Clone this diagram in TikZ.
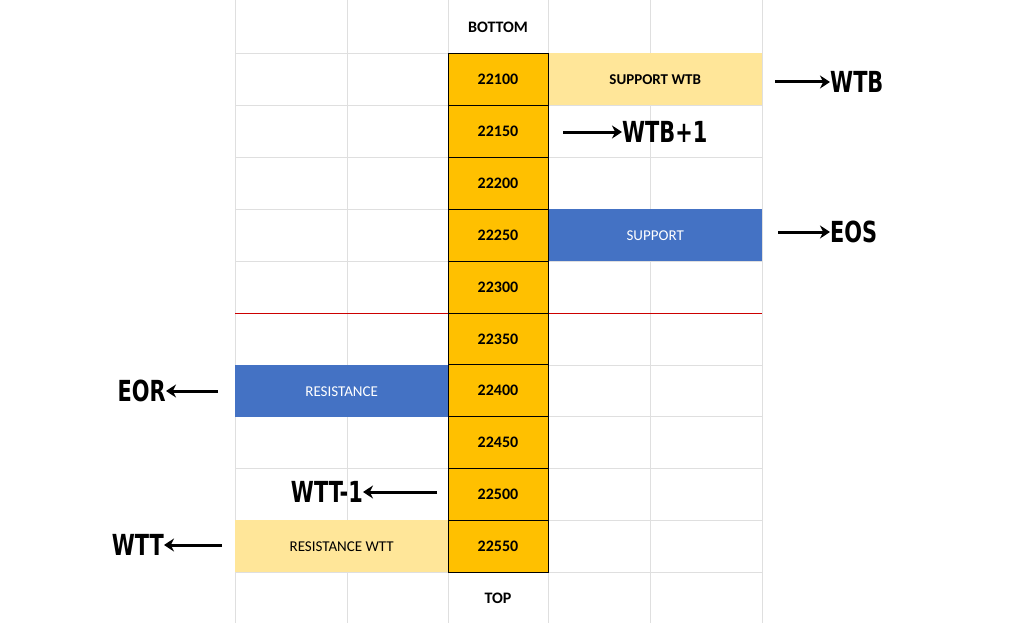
\documentclass[tikz,border=0pt]{standalone}
\usepackage{fontspec}
\setmainfont{Carlito}
\newfontfamily\bigfont{DejaVu Sans Condensed}
\usetikzlibrary{positioning,arrows.meta}
\definecolor{strikeorange}{HTML}{FFC000}
\definecolor{paleyellow}{HTML}{FFE699}
\definecolor{levelblue}{HTML}{4472C4}
\tikzset{
  cell/.style={minimum width=100pt, minimum height=52pt, inner sep=0pt, font=\bfseries\fontsize{16}{16}\selectfont},
  strike/.style={cell, fill=strikeorange, draw=black, line width=0.8pt},
  wide/.style={cell, minimum width=214pt, font=\fontsize{15}{15}\selectfont},
  tag/.style={inner sep=0pt, font=\bigfont\bfseries\fontsize{29}{29}\selectfont},
  pointer/.style={line width=3pt, -{Stealth[length=10pt,width=13pt]}}
}
\begin{document}
\begin{tikzpicture}[x=1pt, y=-1pt]
\useasboundingbox[fill=white] (0,0) rectangle (1024,623);
% grid
\foreach \y in {53,105,157,209,261,313,365,416,468,520,572}
  \draw[gray!25] (235,\y) -- (762,\y);
\foreach \x in {235,347,448,548,650,762}
  \draw[gray!25] (\x,0) -- (\x,623);
% coloured levels
\node[wide, fill=paleyellow, anchor=north west] (supwtb) at (548,53) {\bfseries SUPPORT WTB};
\node[wide, fill=levelblue, text=white, anchor=north west] (sup) at (548,209) {SUPPORT};
\node[wide, minimum width=213pt, fill=levelblue, text=white, anchor=north west] (res) at (235,365) {RESISTANCE};
\node[wide, minimum width=213pt, fill=paleyellow, anchor=north west] (reswtt) at (235,520) {RESISTANCE WTT};
\draw[red!80!black, line width=0.8pt] (235,313) -- (762,313);
% strikes
\node[cell] (bottom) at (498,27) {BOTTOM};
\foreach \s [count=\i from 0] in {22100,22150,22200,22250,22300,22350,22400,22450,22500,22550}
  \node[strike, anchor=north] (k\s) at (498,53+51.9*\i) {\s};
\node[cell] (top) at (498,598) {TOP};
% arrows and tags
\node[tag, anchor=west] (wtb) at (830,82) {\scalebox{0.8}[1]{WTB}};
\draw[pointer] (775,82) -- (wtb.west);
\node[tag, anchor=west] (wtbone) at (622,132) {\scalebox{0.8}[1]{WTB+1}};
\draw[pointer] (563,132) -- (wtbone.west);
\node[tag, anchor=west] (eos) at (830,232) {\scalebox{0.8}[1]{EOS}};
\draw[pointer] (778,232) -- (eos.west);
\node[tag, anchor=east] (eor) at (166,391) {\scalebox{0.8}[1]{EOR}};
\draw[pointer] (218,391) -- (eor.east);
\node[tag, anchor=east] (wttone) at (363,492) {\scalebox{0.8}[1]{WTT-1}};
\draw[pointer] (437,492) -- (wttone.east);
\node[tag, anchor=east] (wtt) at (164,545) {\scalebox{0.8}[1]{WTT}};
\draw[pointer] (222,545) -- (wtt.east);
\end{tikzpicture}
\end{document}
